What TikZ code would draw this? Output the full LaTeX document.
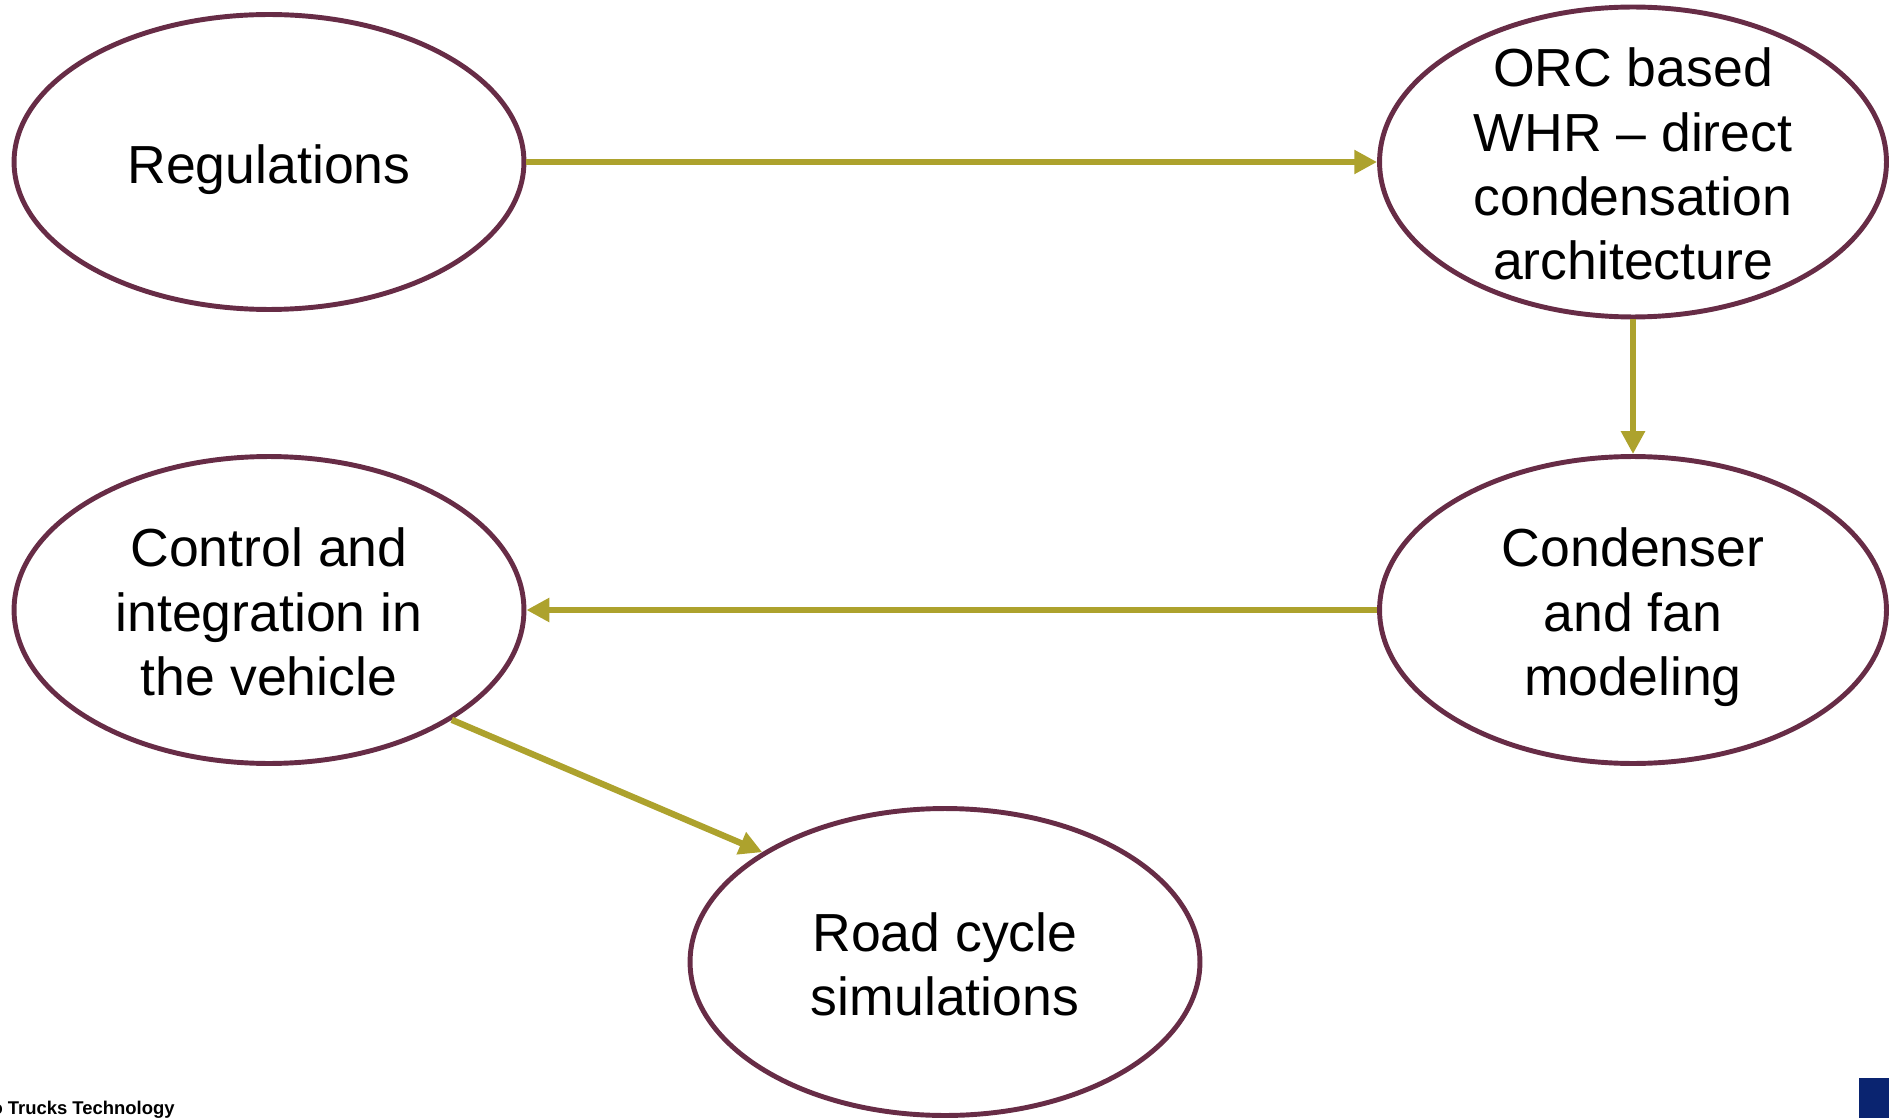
\documentclass[tikz,border=0pt]{standalone}
\usepackage{fontspec}
\setmainfont{Liberation Sans}
\usetikzlibrary{shapes.geometric}
\usetikzlibrary{arrows.meta}
\definecolor{wineline}{HTML}{672C46}
\definecolor{oliveline}{HTML}{ADA22D}
\definecolor{navyblock}{HTML}{0A2470}
\newcommand\topstrut{\rule{0pt}{31pt}}

\begin{document}
\begin{tikzpicture}[x=0.02cm,y=-0.02cm,
  topic/.style={ellipse,draw=wineline,line width=2.8pt,inner xsep=0pt,inner ysep=-40pt,
    minimum width=10.14cm,minimum height=6.14cm,align=center,
    font=\fontsize{30.5}{36.5}\selectfont,
    execute at end node={\rule[-7pt]{0pt}{7pt}}},
  flow/.style={draw=oliveline,line width=3.6pt,-{Triangle[length=13pt,width=13pt]}}]

\useasboundingbox (0,0) rectangle (1889,1118);

\coordinate (R) at (269,162);
\coordinate (O) at (1633,162);
\coordinate (C) at (1633,610);
\coordinate (V) at (269,610);
\coordinate (S) at (945,962);

\node[topic,minimum width=10.2cm,minimum height=5.9cm] (reg) at (R) {\topstrut Regulations};
\node[topic,minimum height=6.2cm] (orc) at (O) {\topstrut ORC based\\WHR -- direct\\condensation\\architecture};
\node[topic] (cond) at (C) {\topstrut Condenser\\and fan\\modeling};
\node[topic,minimum width=10.2cm] (ctrl) at (V) {\topstrut Control and\\integration in\\the vehicle};
\node[topic,minimum width=10.2cm] (road) at (S) {\topstrut Road cycle\\simulations};

\draw[flow] (reg) -- (orc);
\draw[flow] (orc) -- (cond);
\draw[flow] (cond) -- (ctrl);
\draw[flow] (ctrl.-31) -- (road.149);

% footer
\node[anchor=base east,inner sep=0pt,font=\bfseries\fontsize{10.5}{12}\selectfont] (brand) at (175,1114) {o Trucks Technology};
\fill[navyblock] (1859,1078) rectangle (1889,1118);

\end{tikzpicture}
\end{document}
